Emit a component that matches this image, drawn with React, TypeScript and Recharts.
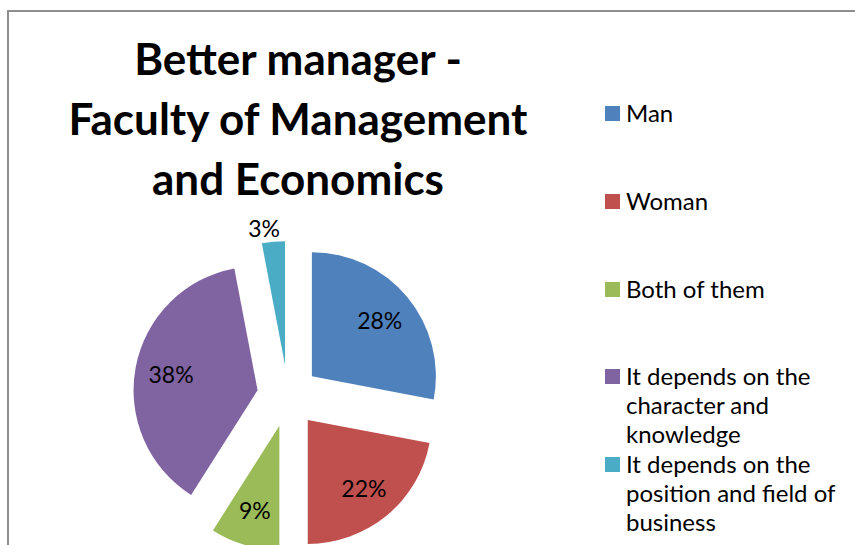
import React from 'react';
import { PieChart, Pie, Cell } from 'recharts';

const categories = [
  'Man',
  'Woman',
  'Both of them',
  'It depends on the character and knowledge',
  'It depends on the position and field of business',
];
// legend lines as they wrap in the original
const legendLines = [
  ['Man'],
  ['Woman'],
  ['Both of them'],
  ['It depends on the', 'character and', 'knowledge'],
  ['It depends on the', 'position and field of', 'business'],
];
const shares = [28, 22, 9, 38, 3];
const colors = ['#4F81BD', '#C0504D', '#9BBB59', '#8064A2', '#4BACC6'];
const titleLines = ['Better manager -', 'Faculty of Management', 'and Economics'];

const CX = 288;
const CY = 396;
const RADIUS = 124;
const EXPLODE = 31;
const RADIAN = Math.PI / 180;
const FONT = 'Lato, "Open Sans", sans-serif';

const data = categories.map((name, i) => ({ name, value: shares[i] }));
const total = shares.reduce((a, b) => a + b, 0);

// slice centre direction, clockwise from 12 o'clock
const midTurn = (i: number) => {
  const before = shares.slice(0, i).reduce((a, b) => a + b, 0);
  return ((before + shares[i] / 2) / total) * 2 * Math.PI;
};

const makeLabel = (slice: number) => (p: any) => {
  if (p.index !== slice) return null;
  const outside = p.percent < 0.05;
  const r = outside ? p.outerRadius + 14 : p.outerRadius * 0.71;
  const x = p.cx + r * Math.cos(-p.midAngle * RADIAN) - (outside ? 8 : 0);
  const y = p.cy + r * Math.sin(-p.midAngle * RADIAN);
  return (
    <text
      x={x}
      y={y}
      fill="#000"
      textAnchor="middle"
      dominantBaseline="central"
      fontSize={23}
      fontFamily={FONT}
    >
      {`${Math.round(p.percent * 100)}%`}
    </text>
  );
};

const App: React.FC = () => {
  return (
    <div style={{ position: 'absolute', left: 0, top: 0, width: 855, height: 545, overflow: 'hidden', background: '#fff' }}>
      <div
        style={{
          position: 'absolute',
          left: 7,
          top: 10,
          width: 900,
          height: 600,
          border: '2px solid #8e8e8e',
        }}
      />
      <div style={{ position: 'absolute', left: 0, top: 0 }}>
        <PieChart width={855} height={545} margin={{ top: 0, right: 0, bottom: 0, left: 0 }}>
          {shares.map((_, i) => {
            const t = midTurn(i);
            return (
              <Pie
                key={i}
                data={data}
                dataKey="value"
                nameKey="name"
                cx={CX + EXPLODE * Math.sin(t)}
                cy={CY - EXPLODE * Math.cos(t)}
                outerRadius={RADIUS}
                startAngle={90}
                endAngle={-270}
                stroke="none"
                label={makeLabel(i)}
                labelLine={false}
                isAnimationActive={false}
              >
                {data.map((_, j) => (
                  <Cell key={j} fill={j === i ? colors[j] : 'transparent'} />
                ))}
              </Pie>
            );
          })}
        </PieChart>
      </div>
      <div
        style={{
          position: 'absolute',
          left: 48,
          top: 28,
          width: 500,
          textAlign: 'center',
          fontFamily: FONT,
          fontWeight: 700,
          fontSize: 44,
          lineHeight: '60px',
          whiteSpace: 'nowrap',
          color: '#000',
        }}
      >
        {titleLines.map((l) => (
          <div key={l}>{l}</div>
        ))}
      </div>
      {legendLines.map((lines, i) => (
        <div
          key={i}
          style={{ position: 'absolute', left: 605, top: 98 + i * 87.8, fontFamily: FONT, fontSize: 24, lineHeight: '29px' }}
        >
          <div style={{ position: 'absolute', left: 0, top: 8, width: 15, height: 15, background: colors[i] }} />
          <div style={{ position: 'absolute', left: 21, top: 0, whiteSpace: 'nowrap', color: '#000' }}>
            {lines.map((l, k) => (
              <div key={k}>{l}</div>
            ))}
          </div>
        </div>
      ))}
    </div>
  );
};

export default App;
